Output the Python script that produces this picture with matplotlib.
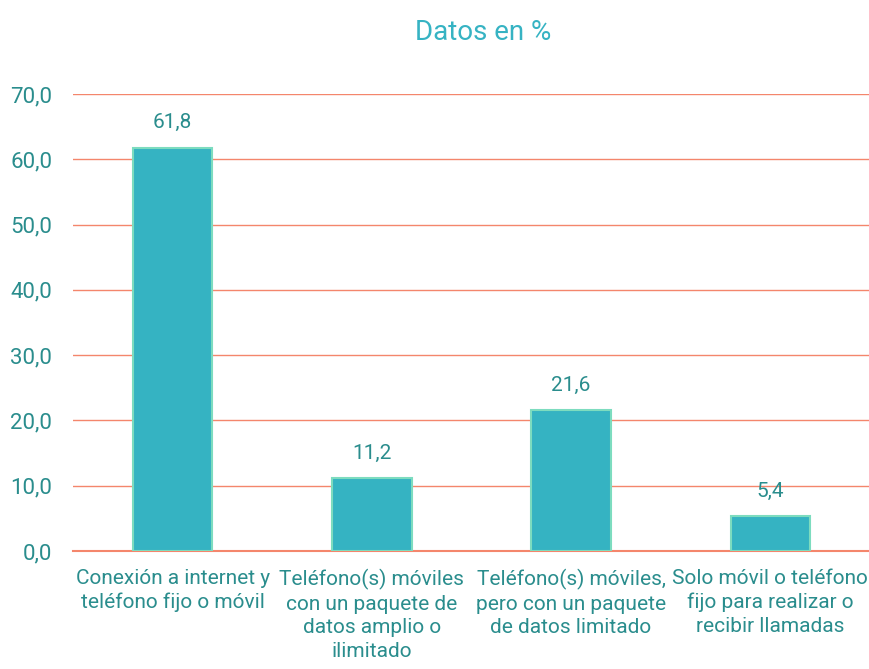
import matplotlib
matplotlib.use("Agg")
import matplotlib.pyplot as plt
import numpy as np

categories = [
    "Conexión a internet y\nteléfono fijo o móvil",
    "Teléfono(s) móviles\ncon un paquete de\ndatos amplio o\nilimitado",
    "Teléfono(s) móviles,\npero con un paquete\nde datos limitado",
    "Solo móvil o teléfono\nfijo para realizar o\nrecibir llamadas",
]
values = [61.8, 11.2, 21.6, 5.4]
yticks = [0, 10, 20, 30, 40, 50, 60, 70]

TEXT = "#2a8d8d"
BAR = "#35b3c2"
EDGE = "#7ddcbf"
GRID = "#f4866c"

plt.rcParams["font.family"] = ["Roboto", "DejaVu Sans"]

fig = plt.figure(figsize=(8.7, 6.69), dpi=100)
ax = fig.add_axes([73 / 870, 1 - 551 / 669, (870 - 73) / 870, (551 - 94) / 669])

x = np.arange(len(categories))
ax.bar(x, values, width=0.4, color=BAR, edgecolor=EDGE, linewidth=1.5, zorder=3)

for xi, v in zip(x, values):
    ax.annotate(f"{v:.1f}".replace(".", ","), (xi, v), xytext=(0, 11),
                textcoords="offset points", ha="center", va="bottom",
                fontsize=15, color=TEXT)

ax.set_xlim(-0.5, len(categories) - 0.5)
ax.set_ylim(0, 70)
ax.set_yticks(yticks)
ax.set_yticklabels([f"{t:.1f}".replace(".", ",") for t in yticks],
                   fontsize=16, color=TEXT)
ax.set_xticks(x)
ax.set_xticklabels(categories, fontsize=15, color=TEXT, linespacing=1.3)
ax.tick_params(axis="y", length=0, pad=15)
ax.tick_params(axis="x", length=0, pad=13)

ax.grid(True, axis="y", color=GRID, linewidth=1.0, zorder=0)
for s in ["top", "right", "left"]:
    ax.spines[s].set_visible(False)
ax.spines["bottom"].set_color(GRID)
ax.spines["bottom"].set_linewidth(1.5)

fig.text(483 / 870, 1 - 32 / 669, "Datos en %", ha="center", va="center",
         fontsize=20, color="#36b3c3")

fig.savefig("out.png", dpi=100)
